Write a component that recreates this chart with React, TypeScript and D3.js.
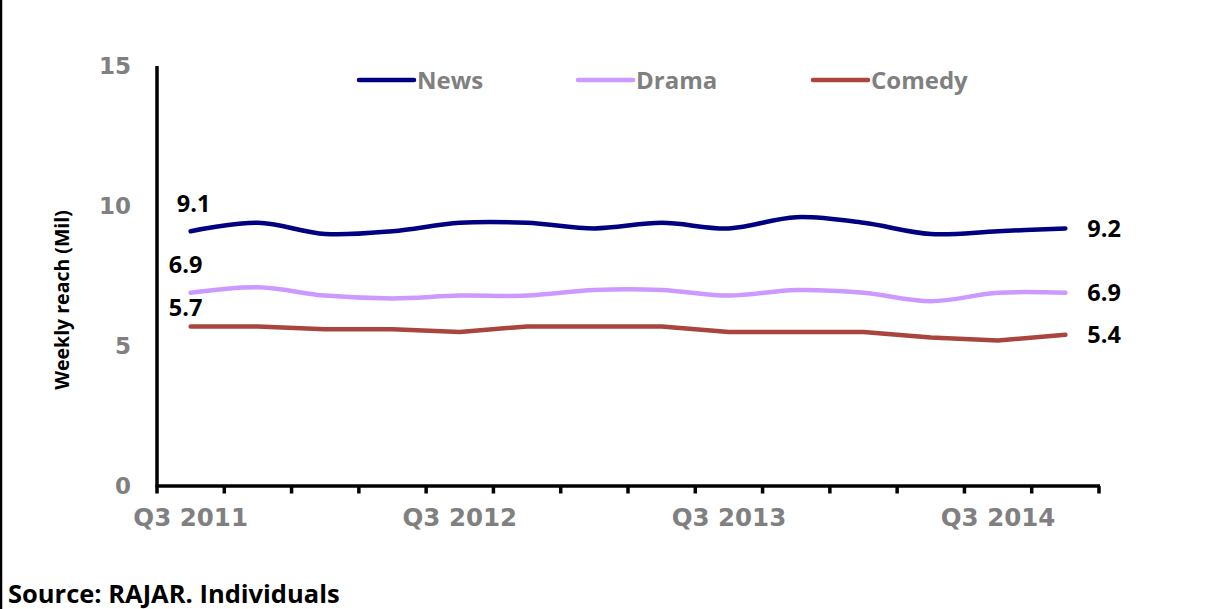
import React from "react";
import * as d3 from "d3";

const categories = [
  "Q3 2011", "Q4 2011", "Q1 2012", "Q2 2012",
  "Q3 2012", "Q4 2012", "Q1 2013", "Q2 2013",
  "Q3 2013", "Q4 2013", "Q1 2014", "Q2 2014",
  "Q3 2014", "Q4 2014",
];
const newsValues = [9.1, 9.4, 9.0, 9.1, 9.4, 9.4, 9.2, 9.4, 9.2, 9.6, 9.4, 9.0, 9.1, 9.2];
const dramaValues = [6.9, 7.1, 6.8, 6.7, 6.8, 6.8, 7.0, 7.0, 6.8, 7.0, 6.9, 6.6, 6.9, 6.9];
const comedyValues = [5.7, 5.7, 5.6, 5.6, 5.5, 5.7, 5.7, 5.7, 5.5, 5.5, 5.5, 5.3, 5.2, 5.4];
const yTicks = [0, 5, 10, 15];
const xLabelEvery = 4;

const W = 1223;
const H = 609;
const left = 157;
const right = 1099;
const top = 66;
const bottom = 486;

const series = [
  { name: "News", values: newsValues, color: "#000080", smooth: true },
  { name: "Drama", values: dramaValues, color: "#CC99FF", smooth: true },
  { name: "Comedy", values: comedyValues, color: "#A9443F", smooth: false },
];

const gill = "'Open Sans', 'Noto Sans', sans-serif";
const verd = "'DejaVu Sans', Verdana, sans-serif";

export default function App() {
  const x = d3.scaleBand<string>().domain(categories).range([left, right]).padding(0);
  const y = d3.scaleLinear().domain([0, 15]).range([bottom, top]);
  const cx = (i: number) => (x(categories[i]) as number) + x.bandwidth() / 2;

  const lineSmooth = d3
    .line<number>()
    .x((_, i) => cx(i))
    .y((v) => y(v))
    .curve(d3.curveCardinal.tension(0));
  const lineStraight = d3
    .line<number>()
    .x((_, i) => cx(i))
    .y((v) => y(v));

  const boundaries = categories.map((c) => x(c) as number).concat([right]);
  const last = categories.length - 1;

  const legendX = [359, 578, 813];
  const legendY = 80;

  const leftLabelDx = [3, -5, -5];
  const leftLabelDy = [-19, -20, -10];

  return (
    <svg
      width={W}
      height={H}
      style={{ position: "fixed", left: 0, top: 0, background: "#fff" }}
    >
      <rect x={0} y={0} width={W} height={H} fill="#fff" />
      <line x1={1} y1={0} x2={1} y2={H} stroke="#000" strokeWidth={2.5} />

      {/* y axis labels */}
      {yTicks.map((t) => (
        <text
          key={t}
          x={131}
          y={y(t)}
          dy="0.36em"
          textAnchor="end"
          fontFamily={verd}
          fontWeight="bold"
          fontSize={23}
          fill="#808080"
        >
          {t}
        </text>
      ))}
      <text
        transform={`translate(69, ${(top + bottom) / 2 + 24}) rotate(-90)`}
        textAnchor="middle"
        fontFamily={gill}
        fontWeight="bold"
        fontSize={19.5}
        fill="#000"
      >
        Weekly reach (Mil)
      </text>

      {/* axes */}
      <line x1={left} y1={top} x2={left} y2={bottom} stroke="#000" strokeWidth={3.5} />
      <line x1={left - 1.5} y1={bottom} x2={right + 1} y2={bottom} stroke="#000" strokeWidth={3.5} />
      {boundaries.map((b, i) => (
        <line key={i} x1={b} y1={bottom} x2={b} y2={bottom + 7.5} stroke="#000" strokeWidth={3.5} />
      ))}
      {categories.map((c, i) =>
        i % xLabelEvery === 0 ? (
          <text
            key={c}
            x={cx(i)}
            y={526}
            textAnchor="middle"
            fontFamily={verd}
            fontWeight="bold"
            fontSize={24.5}
            fill="#808080"
          >
            {c}
          </text>
        ) : null
      )}

      {/* lines */}
      {series.map((s) => (
        <path
          key={s.name}
          d={(s.smooth ? lineSmooth : lineStraight)(s.values) as string}
          fill="none"
          stroke={s.color}
          strokeWidth={4.5}
          strokeLinecap="round"
          strokeLinejoin="round"
        />
      ))}

      {/* data labels */}
      {series.map((s, k) => (
        <g key={s.name + "lbl"}>
          <text
            x={cx(0) + leftLabelDx[k]}
            y={y(s.values[0]) + leftLabelDy[k]}
            textAnchor="middle"
            fontFamily={gill}
            fontWeight="bold"
            fontSize={23.5}
            fill="#000"
          >
            {s.values[0].toFixed(1)}
          </text>
          <text
            x={cx(last) + 22}
            y={y(s.values[last])}
            dy="0.36em"
            textAnchor="start"
            fontFamily={gill}
            fontWeight="bold"
            fontSize={23.5}
            fill="#000"
          >
            {s.values[last].toFixed(1)}
          </text>
        </g>
      ))}

      {/* legend */}
      {series.map((s, k) => (
        <g key={s.name + "leg"}>
          <line
            x1={legendX[k]}
            y1={legendY}
            x2={legendX[k] + 55}
            y2={legendY}
            stroke={s.color}
            strokeWidth={4.5}
            strokeLinecap="round"
          />
          <text
            x={legendX[k] + 58}
            y={legendY}
            dy="0.36em"
            fontFamily={gill}
            fontWeight="bold"
            fontSize={24}
            fill="#808080"
          >
            {s.name}
          </text>
        </g>
      ))}

      <text x={8} y={603} fontFamily={gill} fontWeight="bold" fontSize={25.5} fill="#000">
        Source: RAJAR. Individuals
      </text>
    </svg>
  );
}
